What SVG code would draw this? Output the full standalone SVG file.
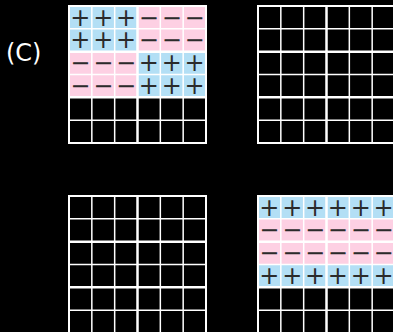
<svg xmlns="http://www.w3.org/2000/svg" width="393" height="332" viewBox="0 0 393 332">
<style>
.blue{fill:#b3dff5}
.pink{fill:#fdd0e3}
.thin{stroke:#fff;stroke-width:1.5;fill:none}
.thick{stroke:#fff;stroke-width:2.5;fill:none}
.border{stroke:#fff;stroke-width:2;fill:none}
.sign{font-family:"DejaVu Sans",sans-serif;font-size:24px;fill:#2b2b2b;text-anchor:middle}
.label{font-family:"DejaVu Sans",sans-serif;font-size:24px;fill:#fff}
</style>
<rect width="393" height="332" fill="#000"/>
<text class="label" x="6" y="61">(C)</text>

<g id="grid-top-left">
  <rect class="blue" x="69" y="6" width="68.5" height="45.67"/>
  <rect class="pink" x="137.5" y="6" width="68.5" height="45.67"/>
  <rect class="pink" x="69" y="51.67" width="68.5" height="45.67"/>
  <rect class="blue" x="137.5" y="51.67" width="68.5" height="45.67"/>
  <path class="thin" d="M91.83 6V143M114.67 6V143M160.33 6V143M183.17 6V143M69 28.83H206M69 74.5H206M69 120.17H206"/>
  <path class="thick" d="M137.5 6V143M69 51.67H206M69 97.33H206"/>
  <rect class="border" x="69" y="6" width="137" height="137"/>
  <text class="sign"><tspan x="80.4 103.25 126.1" y="25.6">+++</tspan><tspan x="80.4 103.25 126.1" y="48.4">+++</tspan><tspan x="148.9 171.75 194.6" y="25.6">−−−</tspan><tspan x="148.9 171.75 194.6" y="48.4">−−−</tspan><tspan x="80.4 103.25 126.1" y="71.3">−−−</tspan><tspan x="80.4 103.25 126.1" y="94.1">−−−</tspan><tspan x="148.9 171.75 194.6" y="71.3">+++</tspan><tspan x="148.9 171.75 194.6" y="94.1">+++</tspan></text>
</g>

<g id="grid-top-right">
  <path class="thin" d="M280.83 6V143M303.67 6V143M349.33 6V143M372.17 6V143M258 28.83H395M258 74.5H395M258 120.17H395"/>
  <path class="thick" d="M326.5 6V143M258 51.67H395M258 97.33H395"/>
  <rect class="border" x="258" y="6" width="137" height="137"/>
</g>

<g id="grid-bottom-left">
  <path class="thin" d="M91.83 196V333M114.67 196V333M160.33 196V333M183.17 196V333M69 218.83H206M69 264.5H206M69 310.17H206"/>
  <path class="thick" d="M137.5 196V333M69 241.67H206M69 287.33H206"/>
  <rect class="border" x="69" y="196" width="137" height="137"/>
</g>

<g id="grid-bottom-right">
  <rect class="blue" x="258" y="196" width="137" height="22.83"/>
  <rect class="pink" x="258" y="218.83" width="137" height="45.67"/>
  <rect class="blue" x="258" y="264.5" width="137" height="22.83"/>
  <path class="thin" d="M280.83 196V333M303.67 196V333M349.33 196V333M372.17 196V333M258 218.83H395M258 264.5H395M258 310.17H395"/>
  <path class="thick" d="M326.5 196V333M258 241.67H395M258 287.33H395"/>
  <rect class="border" x="258" y="196" width="137" height="137"/>
  <text class="sign"><tspan x="269.4 292.25 315.1 337.9 360.75 383.6" y="215.6">++++++</tspan><tspan x="269.4 292.25 315.1 337.9 360.75 383.6" y="238.4">−−−−−−</tspan><tspan x="269.4 292.25 315.1 337.9 360.75 383.6" y="261.3">−−−−−−</tspan><tspan x="269.4 292.25 315.1 337.9 360.75 383.6" y="284.1">++++++</tspan></text>
</g>
</svg>
